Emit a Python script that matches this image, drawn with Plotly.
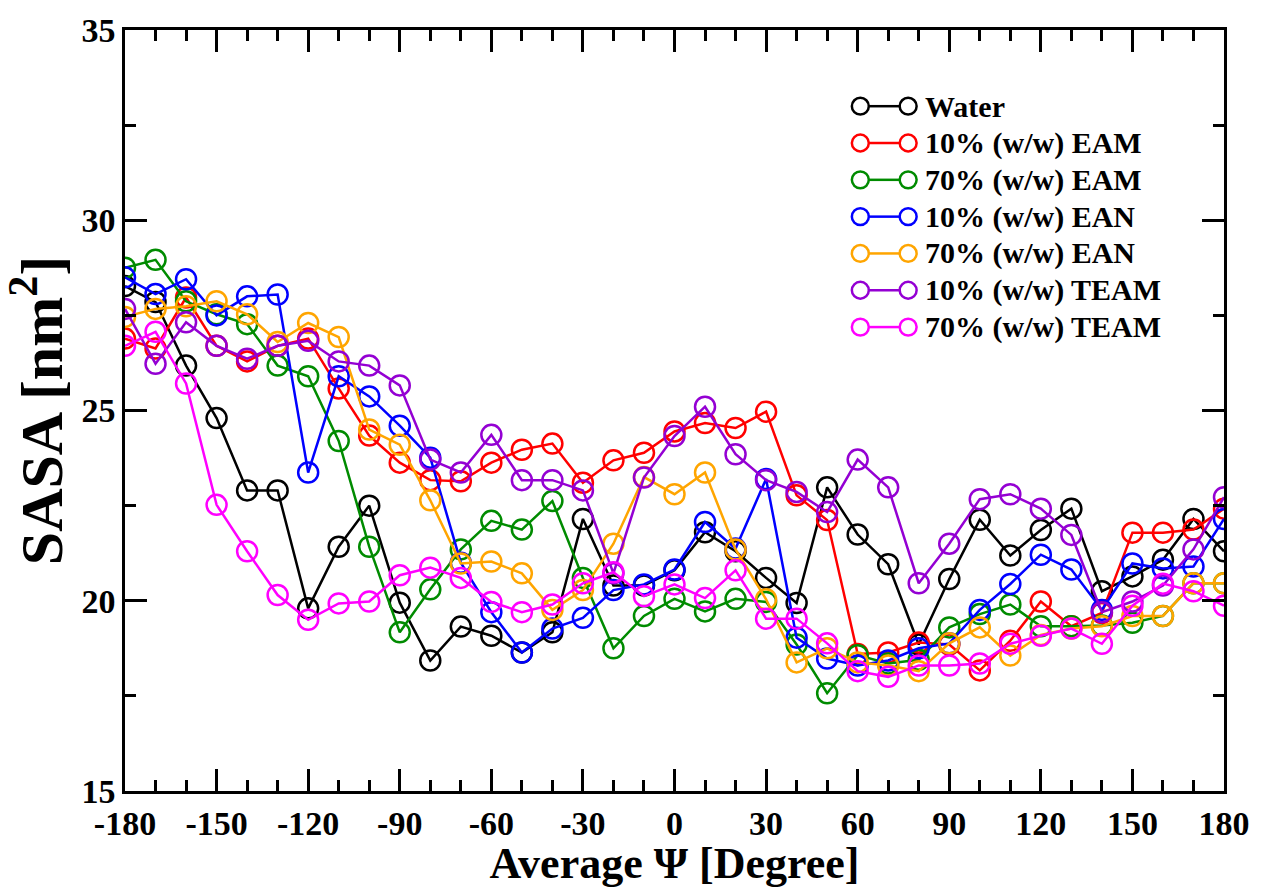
import plotly.graph_objects as go

# Average psi angle bins (degrees)
psi = list(range(-180, 181, 10))
x_ticks = list(range(-180, 181, 30))
x_tick_labels = ["-180", "-150", "-120", "-90", "-60", "-30", "0",
                 "30", "60", "90", "120", "150", "180"]

water = [28.27, 27.85, 26.18, 24.80, 22.90, 22.90, 19.80, 21.42, 22.50, 19.95,
         18.43, 19.32, 19.08, 18.64, 19.17, 22.15, 20.40, 20.40, 20.80, 21.80,
         21.30, 20.60, 19.94, 22.98, 21.74, 20.96, 18.85, 20.57, 22.13, 21.19,
         21.86, 22.42, 20.25, 20.64, 21.08, 22.15, 21.30]

eam10 = [26.89, 26.63, 27.97, 26.70, 26.29, 26.70, 26.89, 25.58, 24.34, 23.63,
         23.17, 23.14, 23.63, 23.97, 24.13, 23.10, 23.69, 23.89, 24.45, 24.67,
         24.54, 24.97, 22.77, 22.12, 18.60, 18.64, 18.90, 18.85, 18.17, 18.95,
         19.98, 19.33, 19.68, 21.79, 21.79, 21.87, 22.42]

eam70 = [28.75, 28.96, 27.87, 27.53, 27.27, 26.18, 25.90, 24.20, 21.42, 19.17,
         20.30, 21.35, 22.10, 21.87, 22.62, 20.60, 18.75, 19.60, 20.05, 19.72,
         20.05, 19.97, 18.85, 17.57, 18.57, 18.35, 18.45, 19.30, 19.65, 19.90,
         19.33, 19.33, 19.35, 19.42, 19.60, 20.46, 20.46]

ean10 = [28.50, 28.06, 28.45, 27.50, 28.00, 28.05, 23.37, 25.90, 25.37, 24.60,
         23.76, 21.00, 19.70, 18.64, 19.27, 19.55, 20.28, 20.43, 20.82, 22.07,
         21.37, 23.20, 19.03, 18.48, 18.30, 18.43, 18.75, 18.88, 19.76, 20.44,
         21.21, 20.82, 19.76, 20.98, 20.85, 20.90, 22.15]

ean70 = [27.46, 27.67, 27.74, 27.87, 27.53, 26.80, 27.30, 26.93, 24.50, 24.10,
         22.64, 20.98, 21.03, 20.72, 19.76, 20.28, 21.50, 23.25, 22.80, 23.37,
         21.35, 20.04, 18.38, 18.75, 18.38, 18.30, 18.15, 18.88, 19.30, 18.56,
         19.10, 19.27, 19.33, 19.60, 19.60, 20.46, 20.46]

team10 = [27.67, 26.23, 27.32, 26.70, 26.36, 26.70, 26.83, 26.29, 26.18, 25.66,
          23.71, 23.37, 24.36, 23.17, 23.17, 22.90, 20.72, 23.24, 24.33, 25.10,
          23.85, 23.17, 22.86, 22.33, 23.71, 22.98, 20.46, 21.50, 22.67, 22.80,
          22.42, 21.73, 19.70, 19.98, 20.40, 21.35, 22.72]

team70 = [26.70, 27.07, 25.71, 22.52, 21.30, 20.15, 19.50, 19.93, 19.98, 20.67,
          20.87, 20.60, 19.97, 19.70, 19.90, 20.46, 20.75, 20.12, 20.43, 20.07,
          20.80, 19.53, 19.53, 18.88, 18.15, 18.00, 18.30, 18.30, 18.35, 18.87,
          19.08, 19.27, 18.87, 19.87, 20.45, 20.25, 19.87]

names = ["Water", "10% (w/w) EAM", "70% (w/w) EAM", "10% (w/w) EAN",
         "70% (w/w) EAN", "10% (w/w) TEAM", "70% (w/w) TEAM"]
values = [water, eam10, eam70, ean10, ean70, team10, team70]
colors = ["#000000", "#ff0000", "#008b00", "#0000ff",
          "#ffa500", "#9400d3", "#ff00ff"]

FONT = "Liberation Serif"
W, H = 1262, 888
M_L, M_R, M_T, M_B = 125, 34, 28, 91
PLOT_W = W - M_L - M_R
PLOT_H = H - M_T - M_B


def px_to_paper_x(px):
    return (px - M_L) / PLOT_W


def px_to_paper_y(py):
    return (H - M_B - py) / PLOT_H


fig = go.Figure()
for name, vals, color in zip(names, values, colors):
    fig.add_trace(go.Scatter(
        x=psi, y=vals, name=name, mode="lines+markers", showlegend=False,
        line=dict(color=color, width=2.5),
        marker=dict(symbol="circle-open", size=20, color=color,
                    line=dict(color=color, width=2.5)),
    ))

# Legend block: a line sample with an open circle at each end, then the label
LEG_X0, LEG_X1 = 863, 911      # circle centres of the sample
LEG_TOP, LEG_STEP = 105, 37.2  # first row centre, row spacing
LEG_R = 8.5                    # sample circle radius
LEG_TEXT_X = 926

shapes = []
annotations = []
for i, (name, color) in enumerate(zip(names, colors)):
    cy = LEG_TOP + i * LEG_STEP
    shapes.append(dict(
        type="line", xref="paper", yref="paper",
        x0=px_to_paper_x(LEG_X0 + LEG_R), x1=px_to_paper_x(LEG_X1 - LEG_R),
        y0=px_to_paper_y(cy), y1=px_to_paper_y(cy),
        line=dict(color=color, width=2.5),
    ))
    for cx in (LEG_X0, LEG_X1):
        shapes.append(dict(
            type="circle", xref="paper", yref="paper",
            x0=px_to_paper_x(cx - LEG_R), x1=px_to_paper_x(cx + LEG_R),
            y0=px_to_paper_y(cy + LEG_R), y1=px_to_paper_y(cy - LEG_R),
            line=dict(color=color, width=2.5), fillcolor="white",
        ))
    annotations.append(dict(
        text=name, xref="paper", yref="paper", showarrow=False,
        x=px_to_paper_x(LEG_TEXT_X), y=px_to_paper_y(cy),
        xanchor="left", yanchor="middle",
        font=dict(family=FONT, size=30, color="black", weight="bold"),
    ))

axis_common = dict(
    showline=True, linecolor="black", linewidth=2.5, mirror="ticks",
    ticks="inside", ticklen=22, tickwidth=2.5, tickcolor="black",
    showgrid=False, zeroline=False,
    tickfont=dict(family=FONT, size=34, color="black", weight="bold"),
)

fig.update_xaxes(
    range=[-180, 180], tickvals=x_ticks, ticktext=x_tick_labels,
    minor=dict(dtick=10, ticks="inside", ticklen=11, tickwidth=2.5, tickcolor="black"),
    title=dict(text="Average Ψ [Degree]", standoff=4,
               font=dict(family=FONT, size=44, color="black", weight="bold")),
    **axis_common,
)
fig.update_yaxes(
    range=[15, 35], tick0=15, dtick=5,
    minor=dict(dtick=2.5, ticks="inside", ticklen=11, tickwidth=2.5, tickcolor="black"),
    title=dict(text="SASA [nm<sup>2</sup>]", standoff=14,
               font=dict(family=FONT, size=60, color="black", weight="bold")),
    **axis_common,
)

fig.update_layout(
    width=W, height=H,
    margin=dict(l=M_L, r=M_R, t=M_T, b=M_B),
    plot_bgcolor="white", paper_bgcolor="white",
    shapes=shapes, annotations=annotations,
)

fig.write_html("out.html")
